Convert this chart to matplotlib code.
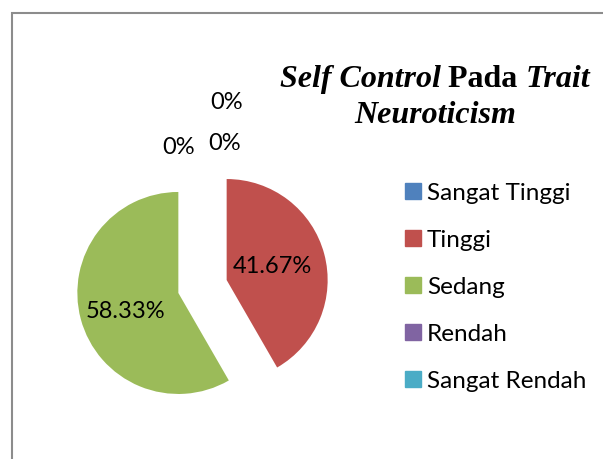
import numpy as np
import matplotlib
matplotlib.use("Agg")
import matplotlib.pyplot as plt
from matplotlib.patches import Rectangle
from matplotlib.lines import Line2D

# data
categories = ["Sangat Tinggi", "Tinggi", "Sedang", "Rendah", "Sangat Rendah"]
percentages = [0.0, 41.67, 58.33, 0.0, 0.0]
colors = ["#4F81BD", "#C0504D", "#9BBB59", "#8064A2", "#4BACC6"]
title_parts = [("Self Control ", "italic"), ("Pada ", "normal"), ("Trait", "italic")]
title_line2 = "Neuroticism"

W, H = 603, 459
fig = plt.figure(figsize=(W / 100, H / 100), dpi=100)
ax = fig.add_axes([0, 0, 1, 1])

# pie (pixel units, y up)
cx, cy, r = 202.5, H - 286.5, 101
wedges, texts, autotexts = ax.pie(
    percentages, colors=colors, startangle=90, counterclock=False,
    explode=[25] * len(percentages), center=(cx, cy), radius=r,
    autopct=lambda p: f"{p:.2f}%" if p > 0.001 else "0%",
    pctdistance=0.5, frame=True,
    wedgeprops=dict(linewidth=0),
    textprops=dict(fontsize=17, family="Lato", color="black"),
)

# label spots inside the big slices: (distance in radii, angle in degrees)
inner_spots = {1: (0.47, 17), 2: (0.55, 199)}
for i, (dist, ang) in inner_spots.items():
    wx, wy = wedges[i].center
    a = np.radians(ang)
    autotexts[i].set_position((wx + dist * r * np.cos(a), wy + dist * r * np.sin(a)))

# zero labels pushed above the pie like Excel does
zero_offsets = {0: (0.22, 1.42), 3: (-0.24, 1.38), 4: (0.24, 1.82)}
for i, (dx, dy) in zero_offsets.items():
    autotexts[i].set_position((cx + dx * r, cy + dy * r))

ax.set_xlim(0, W)
ax.set_ylim(0, H)
ax.set_aspect("equal")
ax.axis("off")

# outer chart border
ax.add_patch(Rectangle((11.5, -20), 700, H - 12.5 + 20, fill=False,
                       edgecolor="#8c8c8c", linewidth=1.5))

# legend
handles = [Line2D([], [], marker="s", linestyle="none", markersize=11,
                  markerfacecolor=c, markeredgecolor=c) for c in colors]
ax.legend(handles, categories, loc="upper left", bbox_to_anchor=(397 / W, 1 - 173 / H),
          frameon=False, prop=dict(family="Lato", size=17.5),
          handlelength=0.55, handletextpad=0.28, labelspacing=1.07, borderaxespad=0)

# title with mixed styles
fig.canvas.draw()
rend = fig.canvas.get_renderer()
tprops = dict(family="Liberation Serif", weight="bold", size=23, color="black")
pieces = [ax.text(0, 0, s, style=st, **tprops) for s, st in title_parts]
widths = [p.get_window_extent(rend).width for p in pieces]
x = 435 - sum(widths) / 2
for p, w in zip(pieces, widths):
    p.set_position((x, H - 87))
    x += w
ax.text(435, H - 123, title_line2, style="italic", ha="center", **tprops)

fig.savefig("out.png", dpi=100)
